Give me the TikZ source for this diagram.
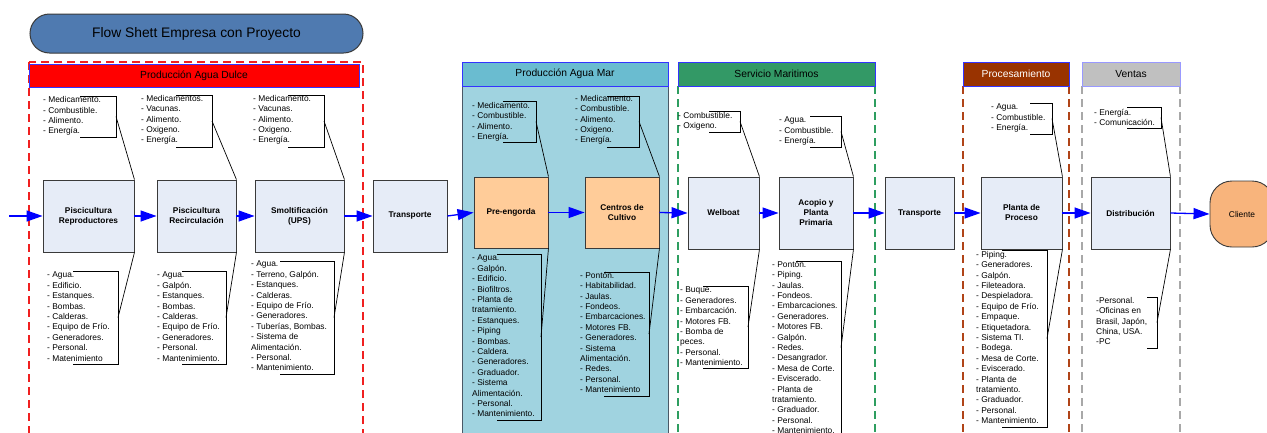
\documentclass[tikz,border=0pt]{standalone}
\usepackage{fontspec}
\setmainfont{Liberation Sans}
\usetikzlibrary{arrows.meta,calc}

\definecolor{boxfill}{HTML}{E6ECF7}
\definecolor{boxedge}{HTML}{3A3A3A}
\definecolor{orangefill}{HTML}{FFCC99}
\definecolor{titlefill}{HTML}{4F7AB0}
\definecolor{seaband}{HTML}{6ABCD0}
\definecolor{seabody}{HTML}{A0D3E0}
\definecolor{seaedge}{HTML}{4A5866}
\definecolor{greenband}{HTML}{339966}
\definecolor{procband}{HTML}{993300}
\definecolor{ventasband}{HTML}{C0C0C0}
\definecolor{bandedge}{HTML}{3333FF}
\definecolor{clientefill}{HTML}{F8B47C}
\definecolor{flowblue}{HTML}{0000FF}
\definecolor{reddash}{HTML}{F02020}
\definecolor{greendash}{HTML}{2E9E60}
\definecolor{browndash}{HTML}{B04418}
\definecolor{greydash}{HTML}{A8A8A8}

\tikzset{
  stage/.style={draw=boxedge, fill=boxfill, line width=0.9pt, inner sep=0,
    align=center, font=\fontsize{8.3}{10}\selectfont\bfseries},
  band/.style={draw=bandedge, line width=0.6pt, inner sep=0,
    font=\fontsize{10.3}{12}\selectfont},
  note/.style={anchor=north west, inner sep=0, align=left,
    font=\fontsize{8.4}{10.4}\selectfont,
    execute at begin node={\rule{0pt}{7pt}}},
  brk/.style={draw=black, line width=0.9pt},
  lead/.style={draw=black, line width=0.7pt},
  flow/.style={draw=flowblue, line width=1.3pt,
    -{Triangle[length=16pt,width=11pt]}},
  zonedash/.style={line width=1.1pt, dash pattern=on 8pt off 5pt},
}

% bracket of a callout: #1 name of its attach point, #2 arm start x,
% #3 bracket x, #4 top y, #5 bottom y
\newcommand\callbrk[5]{%
  \draw[brk] (#2,#4) -- (#3,#4) -- (#3,#5) -- (#2,#5);
  \coordinate (#1) at (#3,{(#4+#5)/2});
}

\begin{document}
\begin{tikzpicture}[x=1pt,y=-1pt]
\useasboundingbox (0,0) rectangle (1267,432);
\clip (0,0) rectangle (1267,432);
\fill[white] (0,0) rectangle (1267,432);

% zones
\draw[seaedge, fill=seabody, line width=0.8pt] (462,86) rectangle (668,440);
\draw[zonedash, reddash] (29,62) rectangle (363,440);
\draw[zonedash, greendash] (678,86) -- (678,440);
\draw[zonedash, greendash] (875,86) -- (875,440);
\draw[zonedash, browndash] (963,86) -- (963,440);
\draw[zonedash, browndash] (1069,86) -- (1069,440);
\draw[zonedash, greydash] (1082,86) -- (1082,440);
\draw[zonedash, greydash] (1180,86) -- (1180,440);

% zone headers
\node[band, fill=red, minimum width=330, minimum height=23] (hdulce) at (194,75.5) {Producción Agua Dulce};
\node[band, fill=seaband, minimum width=206, minimum height=24] (hmar) at (565,74) {Producción Agua Mar};
\node[band, fill=greenband, minimum width=197, minimum height=24] (hserv) at (776.5,74) {Servicio Maritimos};
\node[band, fill=procband, text=white, minimum width=106, minimum height=24] (hproc) at (1016,74) {Procesamiento};
\node[band, fill=ventasband, draw=bandedge!50, minimum width=98, minimum height=24] (hventas) at (1131,74) {Ventas};

% title
\node[draw=boxedge, fill=titlefill, line width=1pt, rounded corners=19.5pt,
  minimum width=333, minimum height=39, inner sep=0,
  font=\fontsize{13.8}{16}\selectfont] (title) at (196.5,33.5) {Flow Shett Empresa con Proyecto};

% process stages
\node[stage, minimum width=91, minimum height=72] (b1) at (88.5,216) {Piscicultura\\Reproductores};
\node[stage, minimum width=79, minimum height=72] (b2) at (196.5,216) {Piscicultura\\Recirculación};
\node[stage, minimum width=89, minimum height=72] (b3) at (299.5,216) {Smoltificación\\(UPS)};
\node[stage, minimum width=74, minimum height=72] (t1) at (410,216) {Transporte};
\node[stage, fill=orangefill, minimum width=74, minimum height=71] (pe) at (511,212.5) {Pre-engorda};
\node[stage, fill=orangefill, minimum width=74, minimum height=71] (cc) at (622,212.5) {Centros de\\Cultivo};
\node[stage, minimum width=71, minimum height=72] (wb) at (723.5,213) {Welboat};
\node[stage, minimum width=74, minimum height=72] (ap) at (816,213) {Acopio y\\Planta\\Primaria};
\node[stage, minimum width=69, minimum height=72] (t2) at (919.5,213) {Transporte};
\node[stage, minimum width=81, minimum height=72] (pp) at (1021.5,213) {Planta de\\Proceso};
\node[stage, minimum width=79, minimum height=72] (di) at (1130.5,213) {Distribución};
\node[draw=boxedge, fill=clientefill, line width=0.9pt, rounded corners=22pt,
  minimum width=64, minimum height=66, inner sep=0,
  font=\fontsize{8.4}{10}\selectfont] (cl) at (1242,214) {Cliente};

% main flow
\coordinate (start) at (9,216);
\draw[flow] (start) -- (b1.west);
\draw[flow] (b1.east) -- (b2.west);
\draw[flow] (b2.east) -- (b3.west);
\draw[flow] (b3.east) -- (t1.west);
\draw[flow] (t1.east) -- (pe.west);
\draw[flow] (pe.east) -- (cc.west);
\draw[flow] (cc.east) -- (wb.west);
\draw[flow] (wb.east) -- (ap.west);
\draw[flow] (ap.east) -- (t2.west);
\draw[flow] (t2.east) -- (pp.west);
\draw[flow] (pp.east) -- (di.west);
\draw[flow] (di.east) -- (cl.west);

% inputs above the stages
\node[note] (n1t) at (43,96.5) {- Medicamento.\\- Combustible.\\- Alimento.\\- Energía.};
\callbrk{k1t}{80}{116}{96}{137}
\draw[lead] (k1t) -- (b1.north east);

\node[note] (n2t) at (141,95) {- Medicamentos.\\- Vacunas.\\- Alimento.\\- Oxigeno.\\- Energía.};
\callbrk{k2t}{176}{212}{95}{147}
\draw[lead] (k2t) -- (b2.north east);

\node[note] (n3t) at (253,95) {- Medicamento.\\- Vacunas.\\- Alimento.\\- Oxigeno.\\- Energía.};
\callbrk{k3t}{288}{324}{95}{147}
\draw[lead] (k3t) -- (b3.north east);

\node[note] (n4t) at (472,102) {- Medicamento.\\- Combustible.\\- Alimento.\\- Energía.};
\callbrk{k4t}{503}{536}{101}{142}
\draw[lead] (k4t) -- (pe.north east);

\node[note] (n5t) at (575,95) {- Medicamento.\\- Combustible.\\- Alimento.\\- Oxigeno.\\- Energía.};
\callbrk{k5t}{607}{639}{96}{147}
\draw[lead] (k5t) -- (cc.north east);

\node[note] (n6t) at (678,112) {- Combustible.\\- Oxigeno.};
\callbrk{k6t}{709}{740}{111}{132}
\draw[lead] (k6t) -- (wb.north east);

\node[note] (n7t) at (779,117) {- Agua.\\- Combustible.\\- Energía.};
\callbrk{k7t}{810}{841}{116}{147}
\draw[lead] (k7t) -- (ap.north east);

\node[note] (n8t) at (991,104) {- Agua.\\- Combustible.\\- Energía.};
\callbrk{k8t}{1030}{1052}{103}{134}
\draw[lead] (k8t) -- (pp.north east);

\node[note] (n9t) at (1094,109) {- Energía.\\- Comunicación.};
\callbrk{k9t}{1127}{1161}{107}{128}
\draw[lead] (k9t) -- (di.north east);

% resources below the stages
\node[note] (n1b) at (47,272) {- Agua.\\- Edificio.\\- Estanques.\\- Bombas.\\- Calderas.\\- Equipo de Frío.\\- Generadores.\\- Personal.\\- Matenimiento};
\callbrk{k1b}{73}{118}{271}{364}
\draw[lead] (b1.south east) -- (k1b);

\node[note] (n2b) at (157,272) {- Agua.\\- Galpón.\\- Estanques.\\- Bombas.\\- Calderas.\\- Equipo de Frío.\\- Generadores.\\- Personal.\\- Mantenimiento.};
\callbrk{k2b}{182}{226}{271}{364}
\draw[lead] (b2.south east) -- (k2b);

\node[note] (n3b) at (251,261) {- Agua.\\- Terreno, Galpón.\\- Estanques.\\- Calderas.\\- Equipo de Frío.\\- Generadores.\\- Tuberías, Bombas.\\- Sistema de\\Alimentación.\\- Personal.\\- Mantenimiento.};
\callbrk{k3b}{280}{334}{261}{374}
\draw[lead] (b3.south east) -- (k3b);

\node[note] (n4b) at (472,255) {- Agua.\\- Galpón.\\- Edificio.\\- Biofiltros.\\- Planta de\\tratamiento.\\- Estanques.\\- Piping\\- Bombas.\\- Caldera.\\- Generadores.\\- Graduador.\\- Sistema\\Alimentación.\\- Personal.\\- Mantenimiento.};
\callbrk{k4b}{497}{541}{254}{420}
\draw[lead] (pe.south east) -- (k4b);

\node[note] (n5b) at (580,272) {- Pontón.\\- Habitabilidad.\\- Jaulas.\\- Fondeos.\\- Embarcaciones.\\- Motores FB.\\- Generadores.\\- Sistema\\Alimentación.\\- Redes.\\- Personal.\\- Mantenimiento};
\callbrk{k5b}{604}{649}{272}{396}
\draw[lead] (cc.south east) -- (k5b);

\node[note] (n6b) at (680,287) {- Buque.\\- Generadores.\\- Embarcación.\\- Motores FB.\\- Bomba de\\peces.\\- Personal.\\- Mantenimiento.};
\callbrk{k6b}{703}{748}{286}{368}
\draw[lead] (wb.south east) -- (k6b);

\node[note] (n7b) at (772,261) {- Pontón.\\- Piping.\\- Jaulas.\\- Fondeos.\\- Embarcaciones.\\- Generadores.\\- Motores FB.\\- Galpón.\\- Redes.\\- Desangrador.\\- Mesa de Corte.\\- Eviscerado.\\- Planta de\\tratamiento.\\- Graduador.\\- Personal.\\- Mantenimiento.};
\callbrk{k7b}{796}{841}{261}{434}
\draw[lead] (ap.south east) -- (k7b);

\node[note] (n8b) at (976,251) {- Piping.\\- Generadores.\\- Galpón.\\- Fileteadora.\\- Despieladora.\\- Equipo de Frío.\\- Empaque.\\- Etiquetadora.\\- Sistema TI.\\- Bodega.\\- Mesa de Corte.\\- Eviscerado.\\- Planta de\\tratamiento.\\- Graduador.\\- Personal.\\- Mantenimiento.};
\callbrk{k8b}{1002}{1047}{250}{427}
\draw[lead] (pp.south east) -- (k8b);

\node[note] (n9b) at (1096,297) {-Personal.\\-Oficinas en\\Brasil, Japón,\\China, USA.\\-PC};
\callbrk{k9b}{1147}{1157}{297}{348}
\draw[lead] (di.south east) -- (k9b);
\end{tikzpicture}
\end{document}
